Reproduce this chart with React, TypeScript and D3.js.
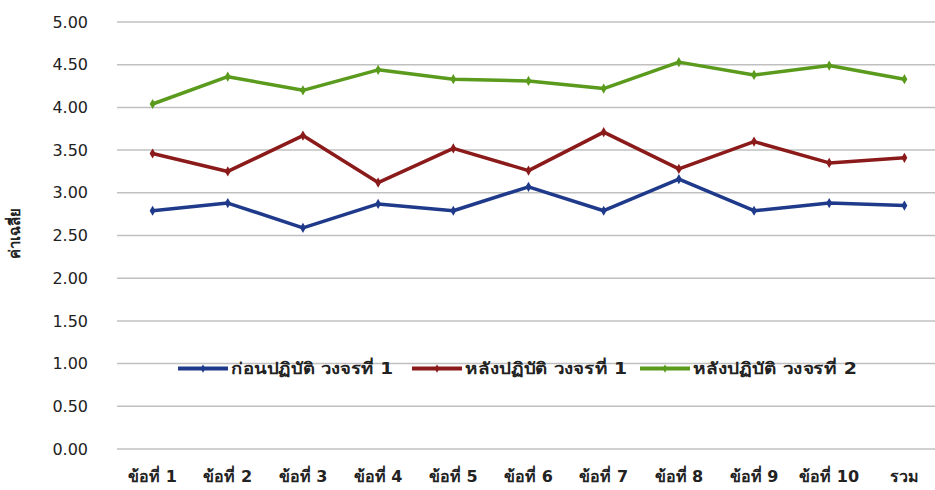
import * as d3 from "d3";
import React from "react";

const categories = ["ข้อที่ 1", "ข้อที่ 2", "ข้อที่ 3", "ข้อที่ 4", "ข้อที่ 5", "ข้อที่ 6", "ข้อที่ 7", "ข้อที่ 8", "ข้อที่ 9", "ข้อที่ 10", "รวม"];
const before1 = [2.79, 2.88, 2.59, 2.87, 2.79, 3.07, 2.79, 3.16, 2.79, 2.88, 2.85];
const after1 = [3.46, 3.25, 3.67, 3.12, 3.52, 3.26, 3.71, 3.28, 3.6, 3.35, 3.41];
const after2 = [4.04, 4.36, 4.2, 4.44, 4.33, 4.31, 4.22, 4.53, 4.38, 4.49, 4.33];
const yTicks = [0, 0.5, 1, 1.5, 2, 2.5, 3, 3.5, 4, 4.5, 5];

const series = [
  { name: "ก่อนปฏิบัติ วงจรที่ 1", values: before1, color: "#1f3a8a" },
  { name: "หลังปฏิบัติ วงจรที่ 1", values: after1, color: "#8b1a1a" },
  { name: "หลังปฏิบัติ วงจรที่ 2", values: after2, color: "#5a9a1c" },
];

const W = 935;
const H = 490;
const margin = { top: 22, right: -7, bottom: 41, left: 115 };
const font = "Tahoma, 'DejaVu Sans', 'Noto Sans', sans-serif";

export default function App() {
  const x = d3
    .scaleBand<string>()
    .domain(categories)
    .range([margin.left, W - margin.right]);
  const y = d3
    .scaleLinear()
    .domain([0, 5])
    .range([H - margin.bottom, margin.top]);
  const cx = (c: string) => (x(c) ?? 0) + x.bandwidth() / 2;

  const line = d3
    .line<number>()
    .x((_, i) => cx(categories[i]))
    .y((d) => y(d));

  const legendY = y(1) + 5;
  const legendX = [178, 412, 640];

  return (
    <svg width={W} height={H} style={{ position: "absolute", left: 0, top: 0, background: "#fff" }} fontFamily={font}>
      {yTicks.map((t) => (
        <g key={t}>
          <line x1={margin.left + 2} x2={W} y1={y(t)} y2={y(t)} stroke="#c0c0c0" strokeWidth={1.5} />
          <text x={88} y={y(t)} dy="0.35em" textAnchor="end" fontSize={16} fill="#222">
            {t.toFixed(2)}
          </text>
        </g>
      ))}
      {categories.map((c) => (
        <text key={c} x={cx(c)} y={482} textAnchor="middle" fontSize={16} fontWeight="bold" fill="#222">
          {c}
        </text>
      ))}
      <text
        transform={`translate(20, ${y(2.5) - 2}) rotate(-90)`}
        textAnchor="middle"
        fontSize={15}
        fontWeight="bold"
        fill="#222"
      >
        ค่าเฉลี่ย
      </text>
      {series.map((s) => (
        <g key={s.name}>
          <path d={line(s.values) ?? ""} fill="none" stroke={s.color} strokeWidth={3.5} strokeLinejoin="round" />
          {s.values.map((v, i) => (
            <path
              key={i}
              d={d3.symbol(d3.symbolDiamond, 30)() ?? ""}
              transform={`translate(${cx(categories[i])},${y(v)})`}
              fill={s.color}
            />
          ))}
        </g>
      ))}
      {series.map((s, i) => (
        <g key={s.name} transform={`translate(${legendX[i]},${legendY})`}>
          <line x1={0} x2={50} y1={0} y2={0} stroke={s.color} strokeWidth={4} />
          <path d={d3.symbol(d3.symbolDiamond, 20)() ?? ""} transform="translate(25,0)" fill={s.color} />
          <text x={53} y={0} dy="0.35em" fontSize={16} fontWeight="bold" fill="#222" textLength={i === 2 ? 164 : 162} lengthAdjust="spacingAndGlyphs">
            {s.name}
          </text>
        </g>
      ))}
    </svg>
  );
}
